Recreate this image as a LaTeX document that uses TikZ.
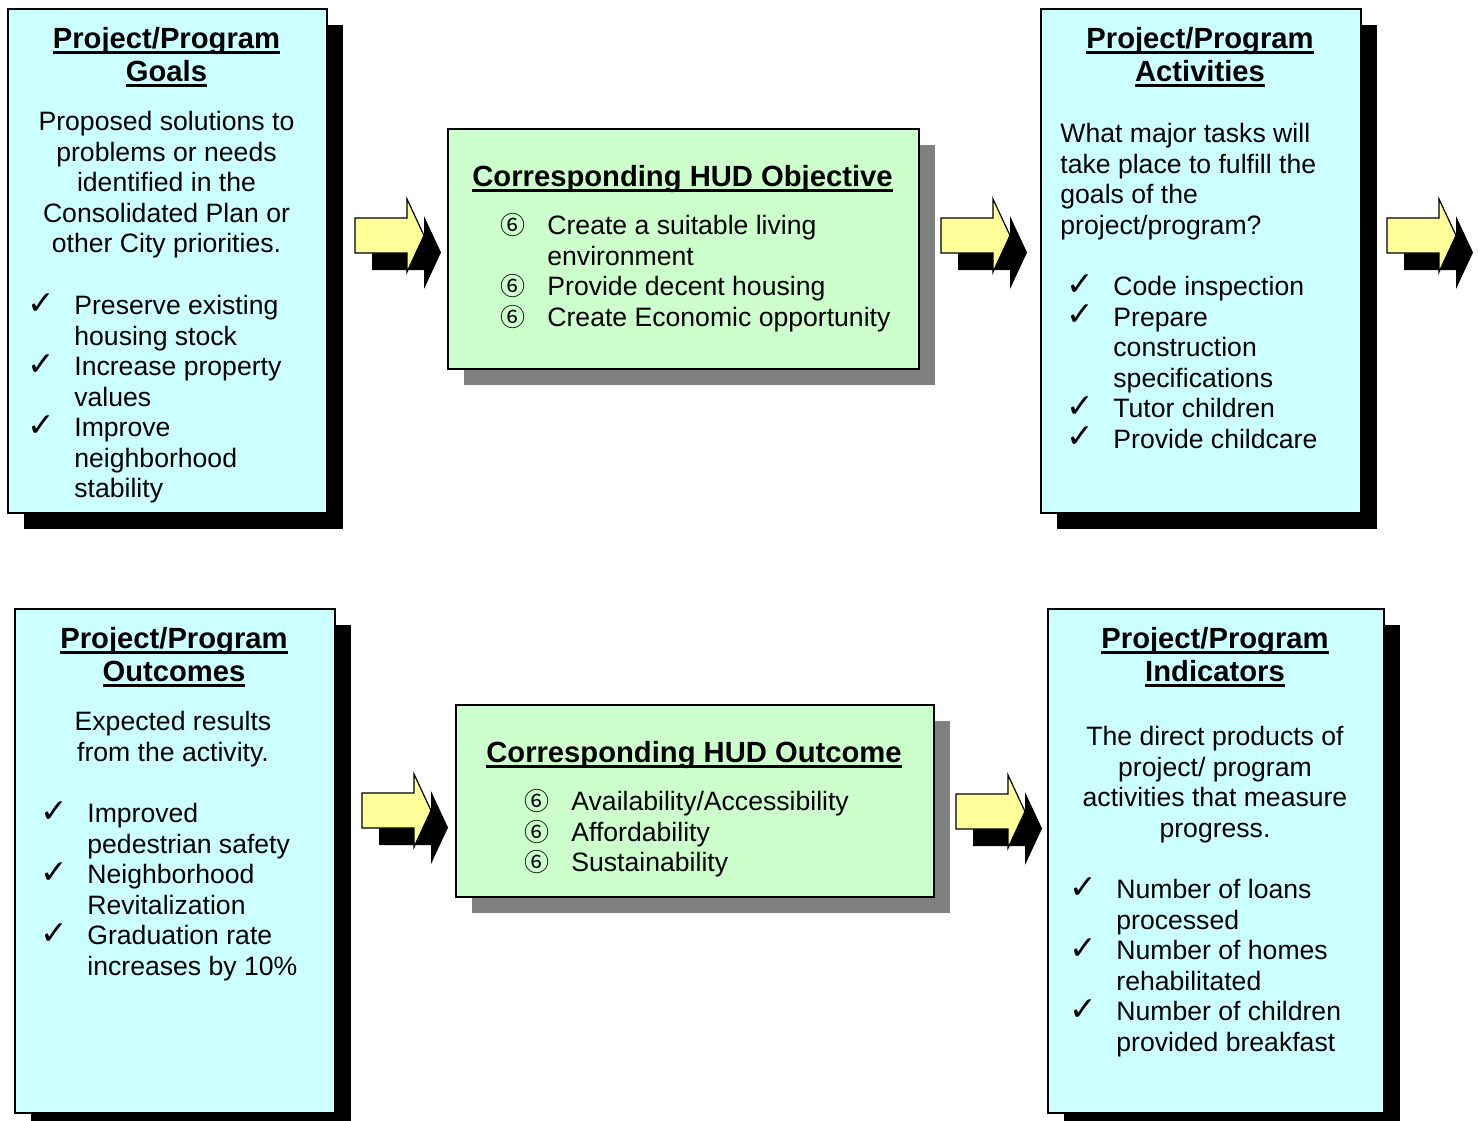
\documentclass[tikz,border=0pt]{standalone}
\usepackage{fontspec}
\setmainfont{Liberation Sans}
\newfontfamily\djv{DejaVu Sans}
\newfontfamily\cjk{Noto Sans CJK SC}
\usetikzlibrary{shadows}
\definecolor{boxcyan}{HTML}{CCFFFF}
\definecolor{boxgreen}{HTML}{CCFFCC}
\definecolor{arrowyellow}{HTML}{FFFF99}
\definecolor{shadowgray}{HTML}{808080}
\newsavebox\ulbox
\newcommand\ulx[1]{\sbox\ulbox{#1}\rlap{\rule[-2.6pt]{\wd\ulbox}{1.3pt}}\usebox\ulbox}
\newcommand\chk{\makebox[23.5pt][l]{\smash{\raisebox{0.3pt}{\djv\fontsize{16.5}{15}\selectfont ✓}}}}
\newcommand\ind{\hspace*{23.5pt}}
\newcommand\six{\makebox[23.5pt][l]{\smash{\cjk\fontsize{12.5}{10}\selectfont ⑥}}}
\newcommand\bodyfont{\fontsize{13.3}{15.25}\selectfont}
\newcommand\titlefont{\fontsize{14.6}{16.5}\selectfont\bfseries}
\tikzset{
  cbox/.style={draw=black, line width=0.75pt, fill=boxcyan, anchor=north west, inner sep=0pt,
    drop shadow={shadow xshift=8pt, shadow yshift=-8pt, fill=black, opacity=1}},
  gbox/.style={draw=black, line width=0.75pt, fill=boxgreen, anchor=north west, inner sep=0pt,
    drop shadow={shadow xshift=8pt, shadow yshift=-8pt, fill=shadowgray, opacity=1}},
  titletext/.style={font=\titlefont, inner sep=0pt, align=center, anchor=north},
  ctext/.style={font=\bodyfont, inner sep=0pt, align=center, anchor=north},
  ltext/.style={font=\bodyfont, inner sep=0pt, align=left, anchor=north west},
  blockarrow/.pic={
    \fill[black] (17,17) -- ++(52,0) -- ++(0,-19) -- ++(17,36.5) -- ++(-17,36.5) -- ++(0,-19) -- ++(-52,0) -- cycle;
    \draw[fill=arrowyellow, line width=0.6pt, line join=miter] (0,0) -- (52,0) -- (52,-19) -- (69,17.5) -- (52,54) -- (52,35) -- (0,35) -- cycle;
  }
}
\begin{document}
\begin{tikzpicture}[x=0.5pt, y=-0.5pt]
\useasboundingbox (0,0) rectangle (1478,1120);
\fill[white] (0,0) rectangle (1478,1120);

% boxes
\node[cbox, minimum width=159.5pt, minimum height=252pt] (goals) at (7,8) {};
\node[gbox, minimum width=235.5pt, minimum height=120pt] (hudobj) at (447,128) {};
\node[cbox, minimum width=160pt, minimum height=252pt] (activities) at (1040,8) {};
\node[cbox, minimum width=160pt, minimum height=252pt] (outcomes) at (14,608) {};
\node[gbox, minimum width=239pt, minimum height=96pt] (hudout) at (455,704) {};
\node[cbox, minimum width=168pt, minimum height=252pt] (indicators) at (1047,608) {};

% arrows
\pic at (355,218) {blockarrow};
\pic at (941,218) {blockarrow};
\pic at (1387,218) {blockarrow};
\pic at (362,793) {blockarrow};
\pic at (956,794) {blockarrow};

% Goals
\node[titletext] (goalsT) at (166.5,27) {\ulx{Project/Program}\\\ulx{Goals}};
\node[ctext] (goalsP) at (166.5,111) {Proposed solutions to\\problems or needs\\identified in the\\Consolidated Plan or\\other City priorities.};
\node[ltext] (goalsL) at (27,295) {\chk Preserve existing\\\ind housing stock\\\chk Increase property\\\ind values\\\chk Improve\\\ind neighborhood\\\ind stability};

% HUD objective
\node[titletext] (hudobjT) at (682.5,165) {\ulx{Corresponding HUD Objective}};
\node[ltext] (hudobjL) at (500,215) {\six Create a suitable living\\\ind environment\\\six Provide decent housing\\\six Create Economic opportunity};

% Activities
\node[titletext] (actT) at (1200,27) {\ulx{Project/Program}\\\ulx{Activities}};
\node[ltext] (actP) at (1060,123) {What major tasks will\\take place to fulfill the\\goals of the\\project/program?};
\node[ltext] (actL) at (1066,276) {\chk Code inspection\\\chk Prepare\\\ind construction\\\ind specifications\\\chk Tutor children\\\chk Provide childcare};

% Outcomes
\node[titletext] (outT) at (174,627) {\ulx{Project/Program}\\\ulx{Outcomes}};
\node[ctext] (outP) at (173,711) {Expected results\\from the activity.};
\node[ltext] (outL) at (40,803) {\chk Improved\\\ind pedestrian safety\\\chk Neighborhood\\\ind Revitalization\\\chk Graduation rate\\\ind increases by 10\%};

% HUD outcome
\node[titletext] (hudoutT) at (694,741) {\ulx{Corresponding HUD Outcome}};
\node[ltext] (hudoutL) at (524,791) {\six Availability/Accessibility\\\six Affordability\\\six Sustainability};

% Indicators
\node[titletext] (indT) at (1215,627) {\ulx{Project/Program}\\\ulx{Indicators}};
\node[ctext] (indP) at (1215,726) {The direct products of\\project/ program\\activities that measure\\progress.};
\node[ltext] (indL) at (1069,879) {\chk Number of loans\\\ind processed\\\chk Number of homes\\\ind rehabilitated\\\chk Number of children\\\ind provided breakfast};
\end{tikzpicture}
\end{document}
